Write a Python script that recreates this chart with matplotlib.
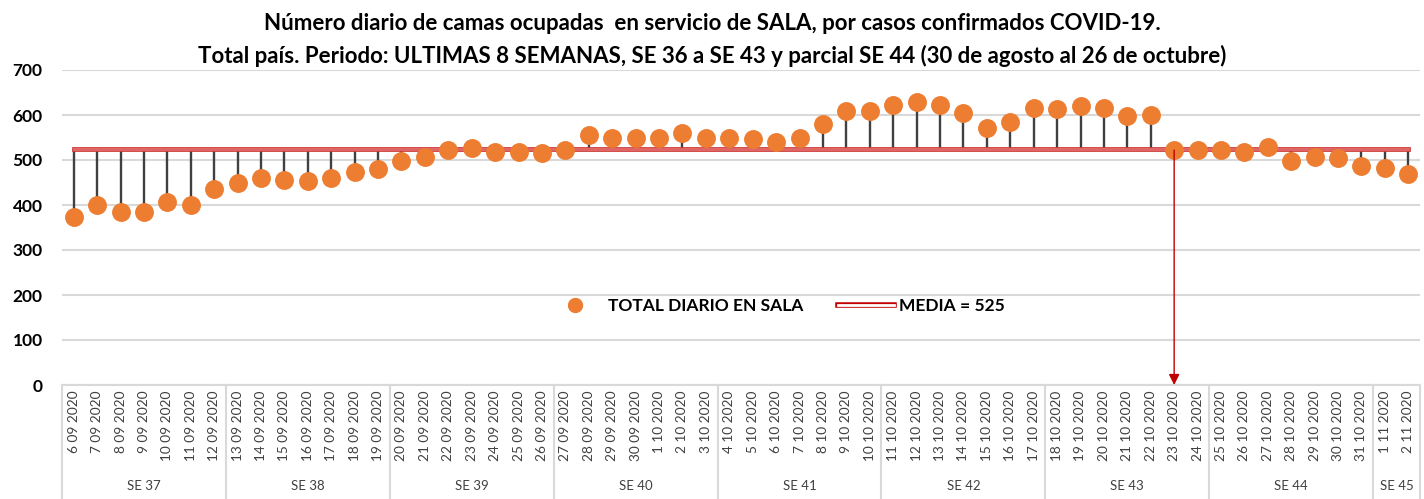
import matplotlib
matplotlib.use("Agg")
import matplotlib.pyplot as plt
import matplotlib.patheffects as pe
from matplotlib.lines import Line2D
import pandas as pd

plt.rcParams['font.family'] = ['Lato', 'DejaVu Sans']

dates = pd.date_range("2020-09-06", "2020-11-02", freq="D")
date_labels = [f"{d.day} {d.month:02d} {d.year}" for d in dates]

values = [374, 399, 384, 384, 406, 401, 436, 448, 461, 456, 454, 461, 473, 481,
          498, 507, 522, 527, 517, 517, 515, 523, 556, 549, 549, 549, 559, 549,
          549, 547, 540, 550, 581, 608, 608, 623, 630, 623, 604, 571, 584, 616,
          613, 621, 616, 598, 601, 522, 522, 522, 517, 530, 498, 507, 505, 487,
          483, 468]
media = 525
weeks = ["SE 37", "SE 38", "SE 39", "SE 40", "SE 41", "SE 42", "SE 43", "SE 44", "SE 45"]
week_sizes = [7, 7, 7, 7, 7, 7, 7, 7, 2]
arrow_label = "23 10 2020"

W, H = 1424, 499
fig = plt.figure(figsize=(W / 100, H / 100), dpi=100)
ax = fig.add_axes([62 / W, 1 - 385 / H, 1358 / W, 315 / H])

x = list(range(len(values)))
ax.set_xlim(-0.5, len(values) - 0.5)
ax.set_ylim(0, 700)

# grid
ax.set_yticks(range(0, 701, 100))
ax.yaxis.grid(True, color="#d9d9d9", lw=1.5, zorder=0)
ax.set_axisbelow(True)
for s in ["top", "right", "left"]:
    ax.spines[s].set_visible(False)
ax.spines["bottom"].set_color("#d9d9d9")
ax.spines["bottom"].set_linewidth(1.5)
ax.tick_params(axis="y", length=0, pad=14, labelsize=12.5)
for t in ax.get_yticklabels():
    t.set_fontweight("bold")
ax.set_xticks([])

# stems
ax.vlines(x, media, values, color="#404040", lw=1.7, zorder=2)
# mean line
ax.plot([x[0], x[-1]], [media, media], color="#e06666", lw=2.4, zorder=3,
        path_effects=[pe.Stroke(linewidth=3.4, foreground="#c9302c"), pe.Normal()])
# points
ax.scatter(x, values, s=185, color="#ED7D31", zorder=4, linewidths=0)

# arrow
ia = date_labels.index(arrow_label)
ax.annotate("", xy=(ia, 0), xytext=(ia, values[ia]),
            arrowprops=dict(arrowstyle="-|>", color="#c00000", lw=1.0,
                            mutation_scale=16, shrinkA=0, shrinkB=0), zorder=5)

# category labels
for i, lab in enumerate(date_labels):
    ax.text(i, -12, lab, rotation=90, ha="center", va="top", fontsize=9.8,
            color="#404040", transform=ax.transData, clip_on=False)

# group separators and labels
trans = ax.get_xaxis_transform()
start = 0
bounds = [start]
for n in week_sizes:
    start += n
    bounds.append(start)
for b in bounds:
    xb = b - 0.5
    ax.plot([xb, xb], [0, -115 / 315], transform=trans, color="#d9d9d9", lw=1.5,
            clip_on=False)
for w, a, b in zip(weeks, bounds[:-1], bounds[1:]):
    ax.text((a + b - 1) / 2, -101 / 315, w, transform=trans, ha="center", va="center",
            fontsize=9.5, color="#404040", clip_on=False)

# legend
handles = [
    Line2D([], [], marker="o", ls="none", color="#ED7D31", markersize=10),
    Line2D([], [], color="white", lw=2.0,
           path_effects=[pe.Stroke(linewidth=4.0, foreground="#c00000"), pe.Normal()]),
]
leg = ax.legend(handles, ["TOTAL DIARIO EN SALA", f"MEDIA = {media}"], loc="center",
                bbox_to_anchor=(0.526, 0.25), ncol=2, frameon=False,
                prop=dict(weight="bold", size=12.5), handlelength=3.2,
                columnspacing=2.0, handletextpad=0.3)

fig.text(0.5, 1 - 23 / H,
         "Número diario de camas ocupadas  en servicio de SALA, por casos confirmados COVID-19.",
         ha="center", va="center", fontsize=16, fontweight="bold")
fig.text(0.5, 1 - 56 / H,
         "Total país. Periodo: ULTIMAS 8 SEMANAS, SE 36 a SE 43 y parcial SE 44 (30 de agosto al 26 de octubre)",
         ha="center", va="center", fontsize=16, fontweight="bold")

fig.savefig("out.png", dpi=100)
